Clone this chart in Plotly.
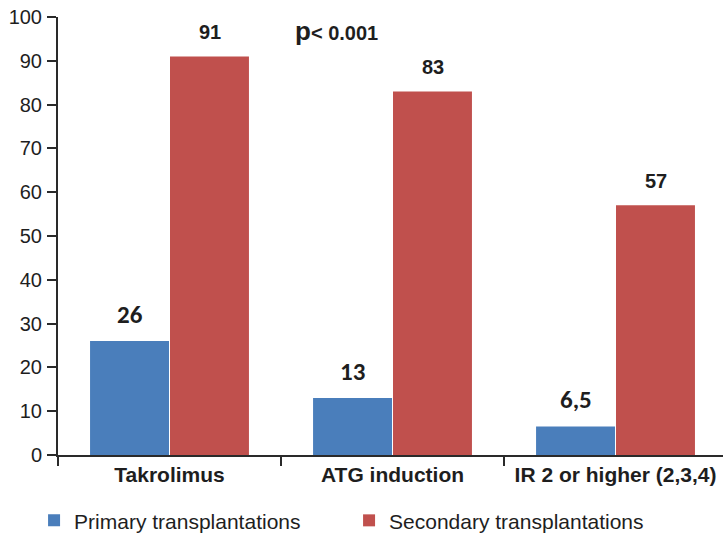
import plotly.graph_objects as go

categories = ["Takrolimus", "ATG induction", "IR 2 or higher (2,3,4)"]
primary = [26, 13, 6.5]
secondary = [91, 83, 57]
primary_labels = ["26", "13", "6,5"]
secondary_labels = ["91", "83", "57"]

BLUE = "#4a7ebb"
RED = "#c0504d"
FONT = "Liberation Sans, Arial, sans-serif"
TXT = "#1e1e1e"

fig = go.Figure()
fig.add_trace(go.Bar(x=categories, y=primary, name="Primary transplantations",
                     marker=dict(color=BLUE, line=dict(width=0))))
fig.add_trace(go.Bar(x=categories, y=secondary, name="Secondary transplantations",
                     marker=dict(color=RED, line=dict(width=0))))

annotations = []
for i, c in enumerate(categories):
    annotations.append(dict(x=i, y=primary[i], xref="x", yref="y", xshift=-40,
                            text="<b>%s</b>" % primary_labels[i], showarrow=False,
                            yanchor="middle", yshift=27,
                            font=dict(family="Carlito, Calibri, Liberation Sans", size=25, color=TXT)))
    annotations.append(dict(x=i, y=secondary[i], xref="x", yref="y", xshift=40,
                            text="<b>%s</b>" % secondary_labels[i], showarrow=False,
                            yanchor="middle", yshift=24,
                            font=dict(family=FONT, size=20, color=TXT)))

annotations.append(dict(xref="paper", yref="paper", x=(293 - 58) / 665, y=(455 - 31) / 438,
                        xanchor="left", yanchor="middle", showarrow=False,
                        text="<b><span style='font-size:26px'>p</span>< 0.001</b>",
                        font=dict(family=FONT, size=20, color=TXT)))

fig.update_layout(
    width=723, height=534,
    margin=dict(l=58, r=0, t=17, b=79, autoexpand=False),
    paper_bgcolor="white", plot_bgcolor="white",
    barmode="group", bargap=0.283, bargroupgap=0.0125,
    font=dict(family=FONT, size=20, color=TXT),
    showlegend=True,
    legend=dict(orientation="h", x=-0.036, y=-0.15, xanchor="left", yanchor="middle",
                entrywidth=270, entrywidthmode="pixels",
                font=dict(family=FONT, size=21, color=TXT)),
    annotations=annotations,
)
fig.update_xaxes(range=[-0.5, 2.482], showline=True, linecolor="#2a2a2a", linewidth=2,
                 ticks="outside", ticklen=9, tickwidth=2, tickcolor="#2a2a2a", tickson="boundaries",
                 tickvals=categories, ticktext=["<b>%s</b>" % c for c in categories],
                 ticklabeloverflow="allow",
                 tickfont=dict(family=FONT, size=21, color=TXT), showgrid=False)
fig.update_yaxes(range=[0, 100], dtick=10, showline=True, linecolor="#2a2a2a", linewidth=2,
                 ticks="outside", ticklen=9, tickwidth=2, tickcolor="#2a2a2a", showgrid=False,
                 zeroline=False, ticklabelstandoff=1, ticklabeloverflow="allow",
                 tickfont=dict(family=FONT, size=20, color=TXT))

fig.write_html("out.html", config={"displayModeBar": False},
               post_script="document.body.style.margin='0';document.body.style.overflow='hidden';")
